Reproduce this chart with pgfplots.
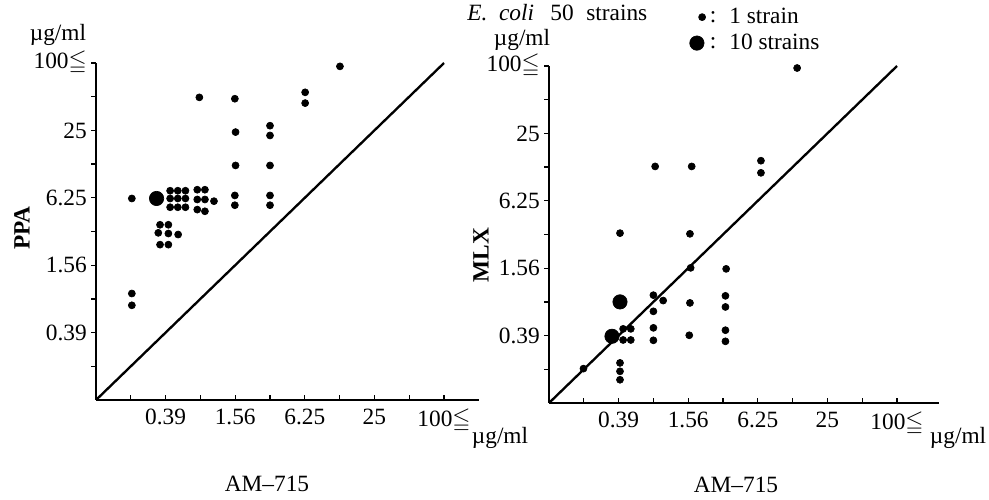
\documentclass[border=0pt]{standalone}
\usepackage{amssymb}
\usepackage{fontspec}
\setmainfont{Liberation Serif}
\usepackage{pgfplots}
\pgfplotsset{compat=1.18}
\newcommand\lab{\fontsize{14}{16}\selectfont}

\pgfplotsset{mic/.style={
  scale only axis, axis lines*=left,
  xmin=-2, ymin=-2, ymax=8, height=202.2pt,
  xtick={-1,...,8}, ytick={-1,...,8},
  xticklabels={{},0.39,{},1.56,{},6.25,{},25,{},100$\leqq$},
  yticklabels={{},0.39,{},1.56,{},6.25,{},25,{},100$\leqq$},
  xtick align=inside, ytick align=outside,
  major tick length=3pt,
  tick style={line width=0.8pt, black},
  axis line style={line width=1.1pt},
  ticklabel style={font=\lab},
  xticklabel style={yshift=-2pt},
  yticklabel style={xshift=1pt},
  clip=false},
  dot/.style={only marks, mark=*, black, mark size=2.1pt, mark options={fill=black}},
  bigdot/.style={only marks, mark=*, black, mark size=4.3pt, mark options={fill=black}},
  diag/.style={no marks, black, line width=1.4pt}}

\begin{document}
\begin{tikzpicture}
\path[use as bounding box] (0,0) rectangle (593.4pt,299.4pt);

% left: PPA vs AM-715
\begin{axis}[mic, at={(57.6pt,59.4pt)}, anchor=south west, xmax=9, width=229.68pt]
\addplot[diag] coordinates {(-2,-2) (8,8)};
\addplot[dot] coordinates {
 (5.01,7.90) (4.01,7.13) (4.01,6.81) (0.97,6.98) (1.99,6.94)
 (2.01,5.95) (3.00,6.14) (3.00,5.85) (2.01,4.96) (3.00,4.96)
 (1.99,4.07) (1.99,3.78) (3.00,4.07) (3.00,3.78) (-0.97,3.98)
 (0.13,4.21) (0.35,4.21) (0.57,4.21) (0.13,3.98) (0.35,3.98) (0.57,3.98)
 (0.13,3.72) (0.35,3.72) (0.57,3.72)
 (0.91,4.24) (1.13,4.24) (0.91,3.95) (1.13,3.95) (1.39,3.90) (0.91,3.65) (1.13,3.60)
 (-0.16,3.20) (0.08,3.20) (-0.21,2.96) (0.08,2.94) (0.36,2.91) (-0.16,2.61) (0.08,2.61)
 (-0.97,1.16) (-0.97,0.81)};
\addplot[bigdot] coordinates {(-0.26,3.98)};
\end{axis}

% right: MLX vs AM-715
\begin{axis}[mic, at={(329.4pt,57.6pt)}, anchor=south west, xmax=9.2, width=233.86pt]
\addplot[diag] coordinates {(-2,-2) (8,8)};
\addplot[dot] coordinates {
 (5.13,7.94) (1.05,5.02) (2.10,5.02) (4.09,5.19) (4.09,4.83)
 (0.04,3.04) (2.05,3.02) (2.07,2.01) (3.09,1.98)
 (1.00,1.20) (1.28,1.04) (1.00,0.72) (2.05,0.97) (3.07,1.18) (3.07,0.85)
 (0.13,0.20) (0.35,0.20) (0.13,-0.13) (0.35,-0.13)
 (1.00,0.23) (1.00,-0.14) (2.03,0.01) (3.07,0.16) (3.07,-0.17)
 (-1.01,-0.98) (0.04,-0.81) (0.04,-1.06) (0.04,-1.31)};
\addplot[bigdot] coordinates {(0.04,1.00) (-0.19,-0.02)};
% key symbols
\addplot[dot] coordinates {(2.40,9.45)};
\addplot[bigdot] coordinates {(2.25,8.68)};
\end{axis}

\begin{scope}[x=0.6pt,y=-0.6pt,shift={(0pt,299.4pt)}, every node/.style={font=\lab, inner sep=0pt}]
\node at (58,35) {µg/ml};
\node[rotate=90, font=\lab\bfseries] at (22,228) {PPA};
\node at (500,438) {µg/ml};
\node at (267,484) {AM--715};
\node at (522,40) {µg/ml};
\node[rotate=90, font=\lab\bfseries] at (481,255) {MLX};
\node at (958,438) {µg/ml};
\node at (736,485) {AM--715};
\node[anchor=west] at (467,13) {\textit{E.\,\,\,coli}};
\node[anchor=west] at (550,13) {50};
\node[anchor=west] at (586,13) {strains};
\node at (713,17) {:};
\node at (713,43) {:};
\node[anchor=west] at (729,16) {1 strain};
\node[anchor=west] at (729,42) {10 strains};
\end{scope}
\end{tikzpicture}
\end{document}
